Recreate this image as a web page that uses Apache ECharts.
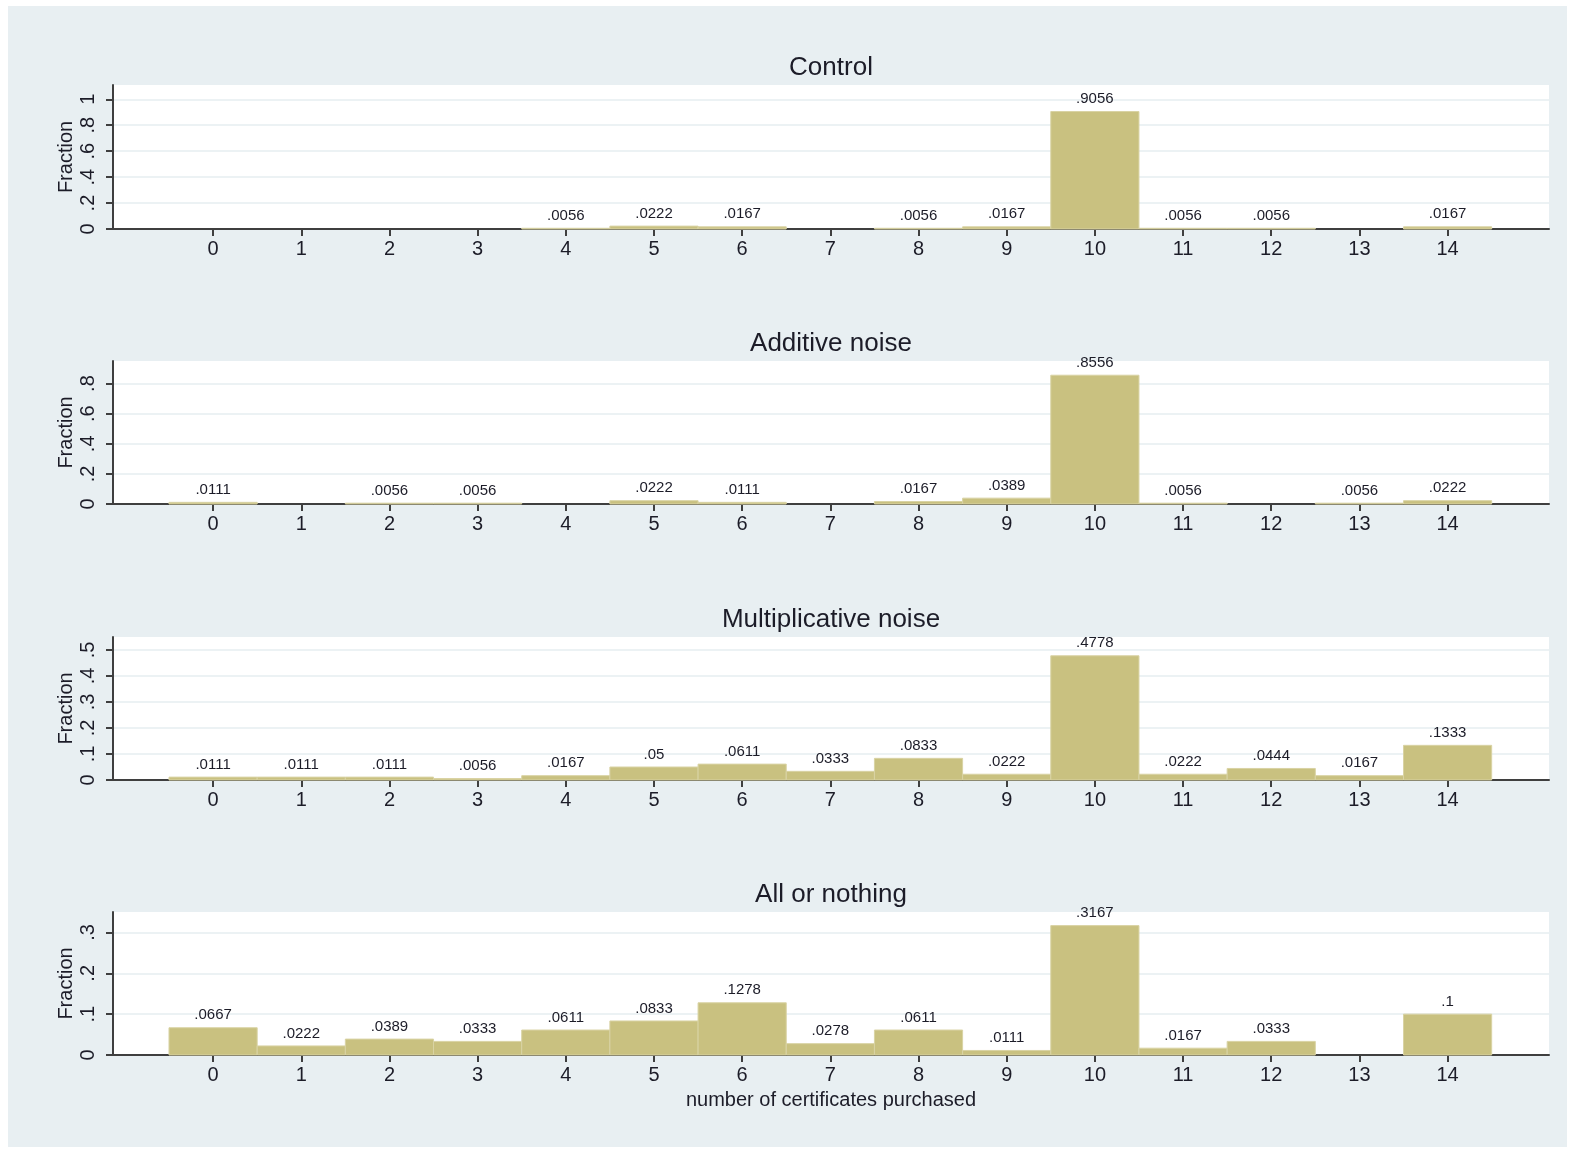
<!DOCTYPE html>
<html>
<head>
<meta charset="utf-8">
<script src="https://cdn.jsdelivr.net/npm/echarts@6/dist/echarts.min.js"></script>
<style>
html,body{margin:0;padding:0;background:#fff;}
#chart{width:1579px;height:1154px;}
</style>
</head>
<body>
<div id="chart"></div>
<script>
// ---- data ----
var categories = [0,1,2,3,4,5,6,7,8,9,10,11,12,13,14];
var panelTitles = ['Control','Additive noise','Multiplicative noise','All or nothing'];
var controlValues        = [0,0,0,0,0.0056,0.0222,0.0167,0,0.0056,0.0167,0.9056,0.0056,0.0056,0,0.0167];
var additiveValues       = [0.0111,0,0.0056,0.0056,0,0.0222,0.0111,0,0.0167,0.0389,0.8556,0.0056,0,0.0056,0.0222];
var multiplicativeValues = [0.0111,0.0111,0.0111,0.0056,0.0167,0.05,0.0611,0.0333,0.0833,0.0222,0.4778,0.0222,0.0444,0.0167,0.1333];
var allOrNothingValues   = [0.0667,0.0222,0.0389,0.0333,0.0611,0.0833,0.1278,0.0278,0.0611,0.0111,0.3167,0.0167,0.0333,0,0.1];
var yTicksControl        = [0,0.2,0.4,0.6,0.8,1];
var yTicksAdditive       = [0,0.2,0.4,0.6,0.8];
var yTicksMultiplicative = [0,0.1,0.2,0.3,0.4,0.5];
var yTicksAllOrNothing   = [0,0.1,0.2,0.3];
var yAxisName = 'Fraction';
var xAxisName = 'number of certificates purchased';

// ---- layout / style ----
var seriesValues = [controlValues, additiveValues, multiplicativeValues, allOrNothingValues];
var yTicks = [yTicksControl, yTicksAdditive, yTicksMultiplicative, yTicksAllOrNothing];
var yMax = [1.11, 0.95, 0.55, 0.35];
var gridTops = [85, 361, 637, 912];
var gridHeights = [144, 143, 143, 143];
var GRID_LEFT = 113, GRID_RIGHT = 30;
var X_MIN = -1.135, X_MAX = 15.15;
var FONT = '"Liberation Sans", Arial, Helvetica, sans-serif';
var BAR = '#c9c180';
var BAR_EDGE = '#d9d3a4';
var TEXT = '#1c1c28';
var AXIS = '#3f3f3f';
var GRIDLINE = '#e6eef1';

function stataFmt(v) {
  if (v === 0) return '0';
  var s = String(v);
  return s.replace(/^0\./, '.');
}

var chart = echarts.init(document.getElementById('chart'), null, {renderer: 'canvas'});

var grids = [], xAxes = [], yAxes = [], series = [], titles = [];
for (var i = 0; i < 4; i++) {
  grids.push({
    left: GRID_LEFT, right: GRID_RIGHT, top: gridTops[i], height: gridHeights[i],
    show: true, backgroundColor: '#ffffff', borderWidth: 0
  });
  titles.push({
    text: panelTitles[i],
    left: (GRID_LEFT + (1579 - GRID_RIGHT)) / 2,
    textAlign: 'center',
    top: gridTops[i] - 30,
    padding: 0,
    textStyle: {fontFamily: FONT, fontSize: 26, fontWeight: 'normal', color: TEXT}
  });
  var isLast = (i === 3);
  xAxes.push({
    type: 'value', gridIndex: i, min: X_MIN, max: X_MAX, position: 'bottom',
    axisLine: {show: true, onZero: false, lineStyle: {color: AXIS, width: 2}},
    axisTick: {show: true, length: 7, lineStyle: {color: AXIS, width: 2}, customValues: categories},
    axisLabel: {show: true, customValues: categories, margin: 10, fontFamily: FONT, fontSize: 20, color: TEXT},
    splitLine: {show: false},
    name: isLast ? xAxisName : '',
    nameLocation: 'middle', nameGap: 35, nameMoveOverlap: false,
    nameTextStyle: {fontFamily: FONT, fontSize: 20, color: TEXT}
  });
  yAxes.push({
    type: 'value', gridIndex: i, min: 0, max: yMax[i], position: 'left',
    axisLine: {show: true, onZero: false, lineStyle: {color: AXIS, width: 2}},
    axisTick: {show: true, length: 7, lineStyle: {color: AXIS, width: 2}, customValues: yTicks[i]},
    axisLabel: {show: true, customValues: yTicks[i], rotate: 90, margin: 15,
      fontFamily: FONT, fontSize: 20, color: TEXT, formatter: function (v) { return stataFmt(v); }},
    splitLine: {show: true, lineStyle: {color: GRIDLINE, width: 1.5}},
    name: yAxisName, nameLocation: 'middle', nameRotate: 90, nameGap: 37, nameMoveOverlap: false,
    nameTextStyle: {fontFamily: FONT, fontSize: 20, color: TEXT}
  });
  series.push({
    type: 'custom', xAxisIndex: i, yAxisIndex: i,
    encode: {x: 0, y: 1},
    data: categories.map(function (c, k) { return [c, seriesValues[i][k]]; }),
    renderItem: function (params, api) {
      var x = api.value(0), y = api.value(1);
      if (!(y > 0)) return null;
      var p0 = api.coord([x - 0.5, 0]);
      var p1 = api.coord([x + 0.5, y]);
      return {
        type: 'group',
        children: [
          {type: 'rect',
           shape: {x: p0[0], y: p1[1], width: p1[0] - p0[0], height: p0[1] - p1[1]},
           style: {fill: BAR, stroke: BAR_EDGE, lineWidth: 1}},
          {type: 'text', x: (p0[0] + p1[0]) / 2, y: p1[1] - 5,
           style: {text: stataFmt(y), align: 'center', verticalAlign: 'bottom',
             font: '15px ' + FONT, fill: TEXT}}
        ]
      };
    }
  });
}

chart.setOption({
  backgroundColor: '#ffffff',
  animation: false,
  graphic: [{type: 'rect', z: -10, silent: true,
    shape: {x: 8, y: 6, width: 1559, height: 1141}, style: {fill: '#e8eff2'}}],
  title: titles,
  grid: grids,
  xAxis: xAxes,
  yAxis: yAxes,
  series: series
});
</script>
</body>
</html>
